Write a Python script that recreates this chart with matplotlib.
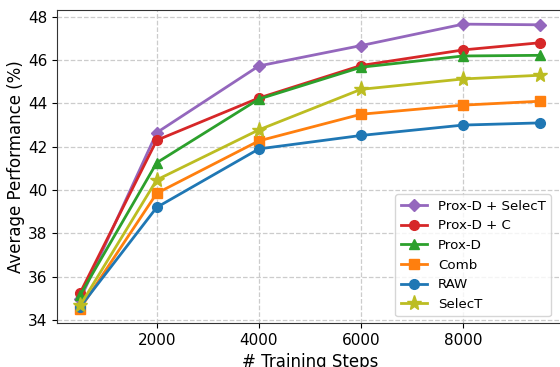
import matplotlib
matplotlib.use("Agg")
import matplotlib.pyplot as plt

steps = [500, 2000, 4000, 6000, 8000, 9500]

prox_d_selectt = [34.95, 42.65, 45.73, 46.67, 47.66, 47.63]
prox_d_c = [35.25, 42.3, 44.25, 45.75, 46.47, 46.8]
prox_d = [35.15, 41.26, 44.2, 45.67, 46.19, 46.22]
comb = [34.52, 39.85, 42.27, 43.5, 43.92, 44.1]
raw = [34.6, 39.2, 41.9, 42.52, 43.0, 43.1]
selectt = [34.67, 40.47, 42.78, 44.65, 45.13, 45.3]

fig, ax = plt.subplots(figsize=(5.6, 3.67), dpi=100)
fig.subplots_adjust(left=0.102, right=1.005, top=0.973, bottom=0.12)

ax.plot(steps, prox_d_selectt, color='tab:purple', marker='D', lw=2, ms=6.5, label='Prox-D + SelecT')
ax.plot(steps, prox_d_c, color='tab:red', marker='o', lw=2, ms=7, label='Prox-D + C')
ax.plot(steps, prox_d, color='tab:green', marker='^', lw=2, ms=7.5, label='Prox-D')
ax.plot(steps, comb, color='tab:orange', marker='s', lw=2, ms=7, label='Comb')
ax.plot(steps, raw, color='tab:blue', marker='o', lw=2, ms=7, label='RAW')
ax.plot(steps, selectt, color='tab:olive', marker='*', lw=2, ms=11, label='SelecT')

ax.set_xlim(50, 9950)
ax.set_xticks([2000, 4000, 6000, 8000])
ax.set_yticks([34, 36, 38, 40, 42, 44, 46, 48])
ax.tick_params(labelsize=11)
for s in ax.spines.values():
    s.set_color('#333333')
ax.set_xlabel('# Training Steps', fontsize=12)
ax.set_ylabel('Average Performance (%)', fontsize=12, labelpad=2)
ax.grid(True, linestyle='--', color='#cccccc', lw=0.9)
ax.legend(loc='lower right', fontsize=9.6, bbox_to_anchor=(0.99, 0.0))

fig.savefig('out.png', dpi=100)
